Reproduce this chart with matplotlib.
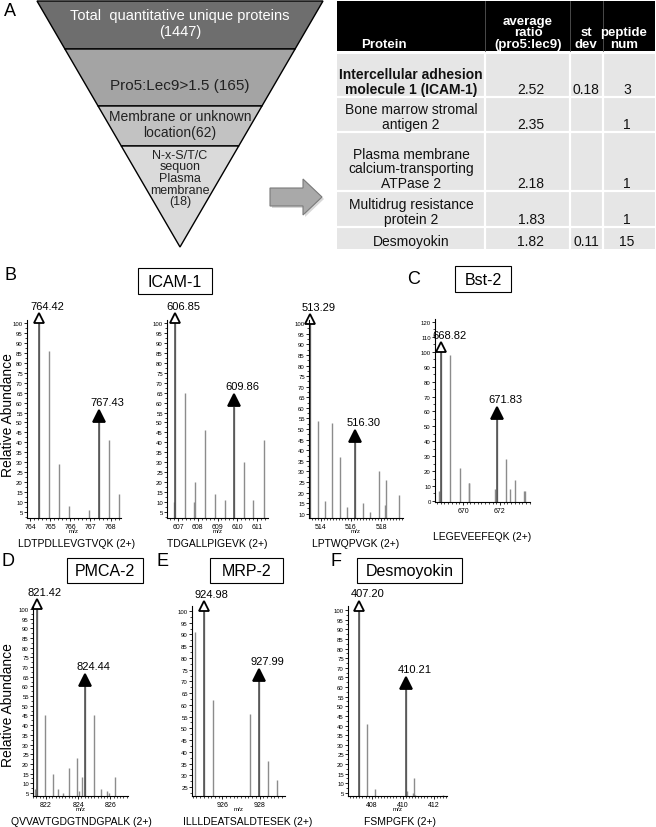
import matplotlib
matplotlib.use("Agg")
import matplotlib.pyplot as plt
from matplotlib.patches import Polygon, Rectangle
from matplotlib.ticker import MultipleLocator
from matplotlib.transforms import offset_copy

plt.rcParams["font.family"] = ["Liberation Sans", "DejaVu Sans"]

# ---------------- data ----------------
funnel_stages = ["Total  quantitative unique proteins", "Pro5:Lec9>1.5",
                 "Membrane or unknown\nlocation", "N-x-S/T/C\nsequon\nPlasma\nmembrane\n"]
funnel_counts = [1447, 165, 62, 18]
funnel_sep = ["\n", " ", "", ""]

table_header = ["Protein", "average\nratio\n(pro5:lec9)", "st\ndev", "peptide\nnum"]
table_protein = ["Intercellular adhesion\nmolecule 1 (ICAM-1)", "Bone marrow stromal\nantigen 2",
                 "Plasma membrane\ncalcium-transporting\nATPase 2", "Multidrug resistance\nprotein 2",
                 "Desmoyokin"]
table_ratio = [2.52, 2.35, 2.18, 1.83, 1.82]
table_stdev = [0.18, None, None, None, 0.11]
table_peptides = [3, 1, 1, 1, 15]

# ICAM-1 peptide 1
icam1_a_pep = "LDTPDLLEVGTVQK (2+)"
icam1_a_mz = [764.42, 764.92, 765.42, 765.92, 766.93, 767.43, 767.93, 768.43]
icam1_a_int = [100, 86, 29, 8, 6, 50, 41, 14]
icam1_a_pair = (764.42, 767.43)
# ICAM-1 peptide 2
icam1_b_pep = "TDGALLPIGEVK (2+)"
icam1_b_mz = [606.80, 606.85, 607.35, 607.82, 607.86, 608.36, 608.86, 609.36, 609.86, 610.36, 610.80, 611.36]
icam1_b_int = [10, 100, 65, 10, 20, 46, 14, 11, 58, 30, 11, 41]
icam1_b_pair = (606.85, 609.86)
# ICAM-1 peptide 3
icam1_c_pep = "LPTWQPVGK (2+)"
icam1_c_mz = [513.29, 513.79, 514.30, 514.75, 515.28, 515.76, 516.30, 516.80, 517.29, 517.84,
              518.25, 518.30, 518.78, 519.17]
icam1_c_int = [100, 54, 16, 53, 37, 13, 44, 15, 11, 30, 14, 26, 6, 19]
icam1_c_pair = (513.29, 516.30)
# Bst-2
bst2_pep = "LEGEVEEFEQK (2+)"
bst2_mz = [668.72, 668.82, 669.32, 669.82, 670.30, 670.35, 671.72, 671.83, 672.33, 672.55, 672.82, 673.30, 673.35]
bst2_int = [7, 100, 98, 22, 12, 12, 8, 55, 28, 8, 14, 7, 7]
bst2_pair = (668.82, 671.83)
# PMCA-2
pmca2_pep = "QVVAVTGDGTNDGPALK (2+)"
pmca2_mz = [821.32, 821.42, 821.95, 822.46, 822.75, 823.03, 823.42, 823.93, 824.02, 824.26, 824.44,
            824.95, 825.43, 825.78, 825.88, 826.29]
pmca2_int = [7, 100, 45, 15, 7, 5, 18, 23, 6, 13, 60, 45, 7, 6, 5, 13]
pmca2_pair = (821.42, 824.44)
# MRP-2
mrp2_pep = "ILLLDEATSALDTESEK (2+)"
mrp2_mz = [924.50, 924.98, 925.49, 927.49, 927.99, 928.47, 928.96]
mrp2_int = [91, 100, 62, 56, 70, 36, 28]
mrp2_pair = (924.98, 927.99)
# Desmoyokin
dsm_pep = "FSMPGFK (2+)"
dsm_mz = [407.20, 407.70, 408.20, 410.21, 410.30, 410.65, 410.71, 410.78, 411.23, 412.62]
dsm_int = [100, 41, 7, 59, 6, 5, 13, 4, 2, 4]
dsm_pair = (407.20, 410.21)

# ---------------- figure ----------------
W, H = 656, 828
fig = plt.figure(figsize=(W / 100, H / 100), dpi=100)
ov = fig.add_axes([0, 0, 1, 1])
ov.set_xlim(0, W)
ov.set_ylim(H, 0)
ov.axis("off")

# ---- panel A: funnel ----
FT, FL, FR, APX, APY = 2, 37, 323, 180, 248
slope = (APX - FL) / (APY - FT)


def fx(y):
    return FL + (y - FT) * slope, FR - (y - FT) * slope


bounds = [2, 50, 107, 147, 248]
band_colors = ["#6e6e6e", "#a4a4a4", "#c2c2c2", "#dadada"]
for i in range(4):
    y0, y1 = bounds[i], bounds[i + 1]
    l0, r0 = fx(y0)
    l1, r1 = fx(y1)
    ov.add_patch(Polygon([(l0, y0), (r0, y0), (r1, y1), (l1, y1)], closed=True,
                         fc=band_colors[i], ec="black", lw=1.0))
text_y = [24, 86, 125, 179]
text_fs = [10.5, 11, 10, 9]
text_col = ["white", "#222222", "#222222", "#222222"]
for i in range(4):
    ov.text(APX, text_y[i], f"{funnel_stages[i]}{funnel_sep[i]}({funnel_counts[i]})",
            ha="center", va="center", fontsize=text_fs[i], color=text_col[i],
            linespacing=0.95 if i == 3 else 1.1)

ov.text(10, 12, "A", fontsize=13, ha="center", va="center")

# arrow
arrow_pts = [(270, 189), (303, 189), (303, 180), (322, 198), (303, 216), (303, 207), (270, 207)]
ov.add_patch(Polygon([(x + 2, y + 2) for x, y in arrow_pts], closed=True, fc="#d8d8d8", ec="none"))
ov.add_patch(Polygon(arrow_pts, closed=True, fc="#a9a9a9", ec="#7a7a7a", lw=0.8))

# ---- table ----
TX = [337, 485, 570, 603, 655]
TH0, TH1 = 2, 52
rows = [55, 98, 133, 192, 228, 250]
ov.add_patch(Rectangle((TX[0], TH0), TX[-1] - TX[0], TH1 - TH0, fc="black", ec="none"))
ov.add_patch(Rectangle((TX[0], rows[0]), TX[-1] - TX[0], rows[-1] - rows[0], fc="#e6e6e6", ec="none"))
for y in rows[1:-1]:
    ov.plot([TX[0], TX[-1]], [y, y], color="white", lw=1.6)
for x in TX[1:-1]:
    ov.plot([x, x], [rows[0], rows[-1]], color="white", lw=1.6)
    ov.plot([x, x], [TH0, TH1], color="#555555", lw=0.6)
header_x = [384, 528, 586, 624]
for hx, ht in zip(header_x, table_header):
    ov.text(hx, TH1 - 1, ht, ha="center", va="bottom", fontsize=9.5, color="white",
            fontweight="bold", linespacing=0.95)
col_c = [(TX[i] + TX[i + 1]) / 2 for i in range(4)]
for i in range(5):
    yb = rows[i + 1] - 1
    ov.text(col_c[0], yb, table_protein[i], ha="center", va="bottom", fontsize=10,
            fontweight="bold" if i == 0 else "normal", linespacing=1.05, color="#111111")
    ov.text(531, yb, f"{table_ratio[i]:.2f}", ha="center", va="bottom", fontsize=10, color="#111111")
    if table_stdev[i] is not None:
        ov.text(586, yb, f"{table_stdev[i]:.2f}", ha="center", va="bottom", fontsize=10, color="#111111")
    ov.text(627, yb, f"{table_peptides[i]}", ha="center", va="bottom", fontsize=10, color="#111111")

# ---- panel letters, boxes, axis titles ----
for lbl, x, y in [("B", 10, 276), ("C", 414, 280), ("D", 8, 562), ("E", 162, 562), ("F", 336, 562)]:
    ov.text(x, y, lbl, fontsize=13, ha="center", va="center")
for lbl, x, y, w, h in [("ICAM-1", 138, 269, 74, 26), ("Bst-2", 455, 267, 56, 26),
                        ("PMCA-2", 67, 559, 76, 25), ("MRP-2", 210, 559, 73, 25),
                        ("Desmoyokin", 357, 559, 105, 25)]:
    ov.add_patch(Rectangle((x, y), w, h, fc="white", ec="black", lw=0.8))
    ov.text(x + w / 2, y + h / 2 + 0.5, lbl, fontsize=11.5, ha="center", va="center")
ov.text(8, 415, "Relative Abundance", rotation=90, fontsize=10, ha="center", va="center")
ov.text(8, 705, "Relative Abundance", rotation=90, fontsize=10, ha="center", va="center")

# ---- spectra ----
spectra = [
    dict(mz=icam1_a_mz, inten=icam1_a_int, pair=icam1_a_pair, pep=icam1_a_pep,
         xpx=(27, 121), ypx=(321, 519), xlim=(763.84, 768.52), ylim=(2, 101.5),
         xt=[764, 765, 766, 767, 768], yt=(5, 100, 5), pepx=77, pepy=544, mz_lbl=True),
    dict(mz=icam1_b_mz, inten=icam1_b_int, pair=icam1_b_pair, pep=icam1_b_pep,
         xpx=(167, 268), ypx=(321, 519), xlim=(606.44, 611.56), ylim=(2, 101.5),
         xt=[607, 608, 609, 610, 611], yt=(5, 100, 5), pepx=217, pepy=544, mz_lbl=True),
    dict(mz=icam1_c_mz, inten=icam1_c_int, pair=icam1_c_pair, pep=icam1_c_pep,
         xpx=(309, 403), ypx=(321, 519), xlim=(513.22, 519.45), ylim=(8, 101.5),
         xt=[514, 516, 518], yt=(10, 100, 5), pepx=356, pepy=544, mz_lbl=True),
    dict(mz=bst2_mz, inten=bst2_int, pair=bst2_pair, pep=bst2_pep,
         xpx=(435, 530), ypx=(320, 503), xlim=(668.49, 673.62), ylim=(-0.7, 122),
         xt=[670, 672], yt=(0, 120, 10), pepx=482, pepy=537, mz_lbl=False),
    dict(mz=pmca2_mz, inten=pmca2_int, pair=pmca2_pair, pep=pmca2_pep,
         xpx=(33, 128), ypx=(607, 797), xlim=(821.19, 827.09), ylim=(3.45, 101.5),
         xt=[822, 824, 826], yt=(5, 100, 5), pepx=81, pepy=822, mz_lbl=True),
    dict(mz=mrp2_mz, inten=mrp2_int, pair=mrp2_pair, pep=mrp2_pep,
         xpx=(192, 285), ypx=(607, 797), xlim=(924.36, 929.37), ylim=(21.2, 102.1),
         xt=[926, 928], yt=(25, 100, 5), pepx=248, pepy=822, mz_lbl=True),
    dict(mz=dsm_mz, inten=dsm_int, pair=dsm_pair, pep=dsm_pep,
         xpx=(348, 447), ypx=(607, 797), xlim=(406.47, 412.86), ylim=(3.4, 102.1),
         xt=[408, 410, 412], yt=(5, 100, 5), pepx=400, pepy=822, mz_lbl=True),
]

for s in spectra:
    x0, x1 = s["xpx"]
    yt_, yb_ = s["ypx"]
    ax = fig.add_axes([x0 / W, 1 - yb_ / H, (x1 - x0) / W, (yb_ - yt_) / H])
    ax.set_facecolor("none")
    ax.set_xlim(*s["xlim"])
    ax.set_ylim(*s["ylim"])
    base = s["ylim"][0]
    ax.vlines(s["mz"], base, s["inten"], colors="#8c8c8c", lw=1.0)
    for k, m in enumerate(s["pair"]):
        filled = k == 1
        h = s["inten"][s["mz"].index(m)]
        ax.vlines([m], base, [h], colors="#4a4a4a", lw=1.1)
        ms = 9 if filled else 6.5
        tr = offset_copy(ax.transData, fig=fig, y=ms / 2, units="points")
        ax.plot([m], [h], marker="^", ms=ms, mfc="black" if filled else "white", mec="black",
                mew=1.3, ls="none", transform=tr, clip_on=False)
        ax.annotate(f"{m:.2f}", (m, h), xytext=(6, ms + 5.5), textcoords="offset points",
                    ha="center", va="center", fontsize=8, annotation_clip=False)
    for sp in ("top", "right"):
        ax.spines[sp].set_visible(False)
    for sp in ("left", "bottom"):
        ax.spines[sp].set_linewidth(0.8)
    ax.set_xticks(s["xt"])
    ax.xaxis.set_minor_locator(MultipleLocator(0.2))
    a, b, st = s["yt"]
    ax.set_yticks(list(range(a, b + 1, st)))
    ax.yaxis.set_minor_locator(MultipleLocator(st / 2))
    ax.tick_params(axis="both", which="major", length=2.5, width=0.6, labelsize=5, pad=1)
    ax.tick_params(axis="both", which="minor", length=1.3, width=0.5)
    ax.tick_params(axis="y", labelsize=4.3, pad=0.5)
    if s["mz_lbl"]:
        ov.text((x0 + x1) / 2, yb_ + 13, "m/z", fontsize=4.5, ha="center", va="center")
    ov.text(s["pepx"], s["pepy"], s["pep"], fontsize=7.5, ha="center", va="center")

fig.savefig("out.png", dpi=100)
